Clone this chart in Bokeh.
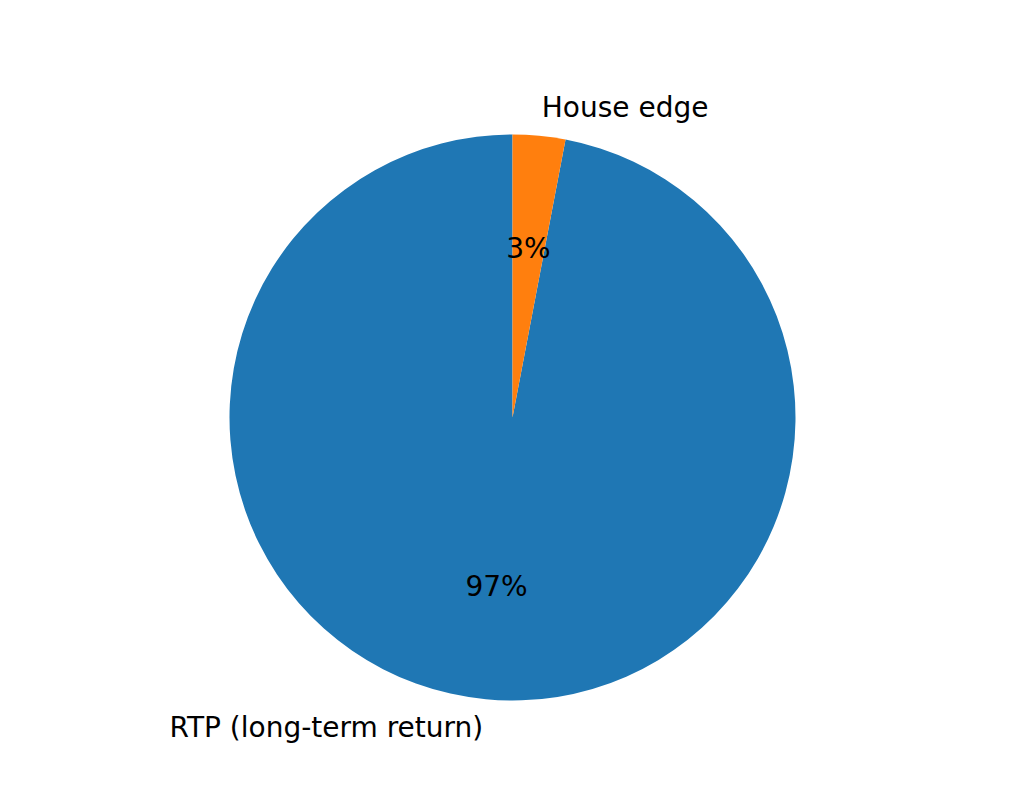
import numpy as np
from bokeh.plotting import figure
from bokeh.models import Range1d, ColumnDataSource
from bokeh.core.properties import value
from bokeh.embed import file_html
from bokeh.resources import INLINE

labels = ["RTP (long-term return)", "House edge"]
shares = [97, 3]
colors = ["#1f77b4", "#ff7f0e"]

W, H = 1008, 777
R_PX = 283.0
cx_px, cy_px = 512.0, 417.0

p = figure(width=W, height=H, output_backend="svg", toolbar_location=None,
           x_range=Range1d(-cx_px / R_PX, (W - cx_px) / R_PX),
           y_range=Range1d(-(H - cy_px) / R_PX, cy_px / R_PX),
           min_border=0)
p.axis.visible = False
p.grid.visible = False
p.outline_line_color = None
p.background_fill_color = "white"
p.border_fill_color = "white"

vals = np.array(shares, dtype=float)
frac = vals / vals.sum()
starts = np.pi / 2 + 2 * np.pi * np.concatenate([[0], np.cumsum(frac)[:-1]])
ends = starts + 2 * np.pi * frac
mids = (starts + ends) / 2

src = ColumnDataSource(dict(start=starts, end=ends, color=colors))
p.wedge(x=0, y=0, radius=1.0, start_angle="start", end_angle="end",
        fill_color="color", line_color=None, source=src, direction="anticlock")

lx = 1.1 * np.cos(mids)
ly = 1.1 * np.sin(mids)
align = ["right" if x < 0 else "left" for x in lx]
lsrc = ColumnDataSource(dict(x=lx, y=ly, t=labels, a=align))
p.text(x="x", y="y", text="t", text_align="a", text_baseline="middle",
       text_font=value("DejaVu Sans"), text_font_size="28px", text_color="black",
       source=lsrc)

px = 0.6 * np.cos(mids)
py = 0.6 * np.sin(mids)
ptxt = ["%d%%" % round(f * 100) for f in frac]
psrc = ColumnDataSource(dict(x=px, y=py, t=ptxt))
p.text(x="x", y="y", text="t", text_align="center", text_baseline="middle",
       text_font=value("DejaVu Sans"), text_font_size="28px", text_color="black",
       source=psrc)

open("out.html", "w").write(file_html(p, INLINE))
